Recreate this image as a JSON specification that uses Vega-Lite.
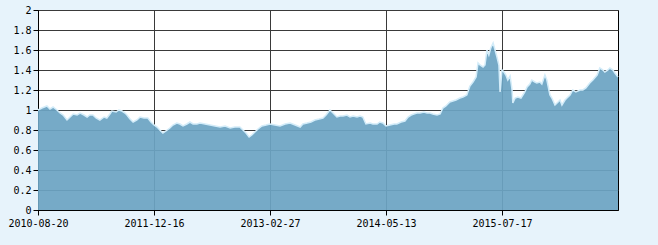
{
  "$schema": "https://vega.github.io/schema/vega-lite/v6.json",
  "autosize": "none",
  "width": 580,
  "height": 200,
  "padding": {"left": 38, "top": 10, "right": 40, "bottom": 35},
  "background": "#E7F3FB",
  "config": {
    "view": {"stroke": "#000000", "strokeWidth": 1, "fill": "#FFFFFF"},
    "axis": {
      "labelFont": "DejaVu Sans Mono",
      "labelFontSize": 10,
      "labelColor": "#000000",
      "domainColor": "#000000",
      "tickColor": "#000000",
      "tickSize": 5,
      "gridColor": "#3A3A3A",
      "gridOpacity": 1,
      "gridWidth": 1,
      "labelFlush": false,
      "labelOverlap": false,
      "title": null
    }
  },
  "data": {
    "values": [
      {"day": 0, "v": 1.00}, {"day": 10, "v": 1.02}, {"day": 23, "v": 1.04}, {"day": 31, "v": 1.01},
      {"day": 39, "v": 1.03}, {"day": 49, "v": 1.00}, {"day": 57, "v": 0.97}, {"day": 65, "v": 0.95},
      {"day": 75, "v": 0.90}, {"day": 83, "v": 0.93}, {"day": 91, "v": 0.96}, {"day": 101, "v": 0.95},
      {"day": 109, "v": 0.97}, {"day": 119, "v": 0.95}, {"day": 127, "v": 0.93}, {"day": 134, "v": 0.95},
      {"day": 142, "v": 0.95}, {"day": 150, "v": 0.92}, {"day": 160, "v": 0.90}, {"day": 171, "v": 0.93},
      {"day": 178, "v": 0.92}, {"day": 186, "v": 0.96}, {"day": 191, "v": 0.99}, {"day": 202, "v": 0.98},
      {"day": 209, "v": 1.00}, {"day": 217, "v": 0.99}, {"day": 225, "v": 0.97}, {"day": 230, "v": 0.95},
      {"day": 238, "v": 0.91}, {"day": 246, "v": 0.88}, {"day": 256, "v": 0.90}, {"day": 264, "v": 0.93},
      {"day": 274, "v": 0.92}, {"day": 284, "v": 0.92}, {"day": 292, "v": 0.88}, {"day": 300, "v": 0.85},
      {"day": 308, "v": 0.83}, {"day": 315, "v": 0.80}, {"day": 323, "v": 0.77}, {"day": 331, "v": 0.79},
      {"day": 341, "v": 0.82}, {"day": 349, "v": 0.85}, {"day": 359, "v": 0.87}, {"day": 367, "v": 0.86},
      {"day": 375, "v": 0.84}, {"day": 385, "v": 0.86}, {"day": 393, "v": 0.88}, {"day": 401, "v": 0.86},
      {"day": 411, "v": 0.86}, {"day": 419, "v": 0.87}, {"day": 432, "v": 0.86}, {"day": 445, "v": 0.85},
      {"day": 458, "v": 0.84}, {"day": 471, "v": 0.83}, {"day": 484, "v": 0.84}, {"day": 497, "v": 0.82},
      {"day": 509, "v": 0.83}, {"day": 522, "v": 0.83}, {"day": 530, "v": 0.80}, {"day": 538, "v": 0.77},
      {"day": 546, "v": 0.73}, {"day": 553, "v": 0.75}, {"day": 561, "v": 0.78}, {"day": 569, "v": 0.81},
      {"day": 579, "v": 0.84}, {"day": 590, "v": 0.85}, {"day": 600, "v": 0.86}, {"day": 613, "v": 0.85},
      {"day": 626, "v": 0.84}, {"day": 639, "v": 0.86}, {"day": 652, "v": 0.87}, {"day": 665, "v": 0.85},
      {"day": 678, "v": 0.83}, {"day": 685, "v": 0.86}, {"day": 696, "v": 0.87}, {"day": 706, "v": 0.88},
      {"day": 716, "v": 0.90}, {"day": 727, "v": 0.91}, {"day": 737, "v": 0.92}, {"day": 745, "v": 0.95},
      {"day": 755, "v": 1.00}, {"day": 763, "v": 0.97}, {"day": 773, "v": 0.93}, {"day": 781, "v": 0.94},
      {"day": 789, "v": 0.94}, {"day": 799, "v": 0.95}, {"day": 807, "v": 0.93}, {"day": 815, "v": 0.94},
      {"day": 825, "v": 0.93}, {"day": 833, "v": 0.94}, {"day": 840, "v": 0.93}, {"day": 848, "v": 0.86},
      {"day": 859, "v": 0.87}, {"day": 866, "v": 0.86}, {"day": 877, "v": 0.86}, {"day": 884, "v": 0.88},
      {"day": 892, "v": 0.87}, {"day": 900, "v": 0.84}, {"day": 910, "v": 0.85}, {"day": 921, "v": 0.86},
      {"day": 928, "v": 0.86}, {"day": 939, "v": 0.88}, {"day": 949, "v": 0.89}, {"day": 957, "v": 0.93},
      {"day": 965, "v": 0.95}, {"day": 972, "v": 0.96}, {"day": 980, "v": 0.97}, {"day": 988, "v": 0.97},
      {"day": 998, "v": 0.98}, {"day": 1006, "v": 0.97}, {"day": 1014, "v": 0.97}, {"day": 1021, "v": 0.96},
      {"day": 1032, "v": 0.95}, {"day": 1040, "v": 0.96}, {"day": 1047, "v": 1.02}, {"day": 1055, "v": 1.04},
      {"day": 1065, "v": 1.08}, {"day": 1073, "v": 1.09}, {"day": 1081, "v": 1.10}, {"day": 1091, "v": 1.12},
      {"day": 1099, "v": 1.13}, {"day": 1109, "v": 1.15}, {"day": 1117, "v": 1.24}, {"day": 1125, "v": 1.28},
      {"day": 1133, "v": 1.33}, {"day": 1138, "v": 1.47}, {"day": 1143, "v": 1.45}, {"day": 1151, "v": 1.43},
      {"day": 1156, "v": 1.45}, {"day": 1161, "v": 1.60}, {"day": 1166, "v": 1.55}, {"day": 1171, "v": 1.62},
      {"day": 1177, "v": 1.67}, {"day": 1182, "v": 1.60}, {"day": 1187, "v": 1.53}, {"day": 1192, "v": 1.45},
      {"day": 1195, "v": 1.18}, {"day": 1200, "v": 1.40}, {"day": 1205, "v": 1.38}, {"day": 1210, "v": 1.35},
      {"day": 1215, "v": 1.30}, {"day": 1221, "v": 1.34}, {"day": 1226, "v": 1.20}, {"day": 1228, "v": 1.07},
      {"day": 1234, "v": 1.12}, {"day": 1241, "v": 1.13}, {"day": 1249, "v": 1.12}, {"day": 1254, "v": 1.15},
      {"day": 1259, "v": 1.18}, {"day": 1265, "v": 1.23}, {"day": 1272, "v": 1.26}, {"day": 1277, "v": 1.30},
      {"day": 1285, "v": 1.28}, {"day": 1290, "v": 1.27}, {"day": 1298, "v": 1.28}, {"day": 1303, "v": 1.26},
      {"day": 1311, "v": 1.35}, {"day": 1316, "v": 1.30}, {"day": 1324, "v": 1.15}, {"day": 1329, "v": 1.12},
      {"day": 1337, "v": 1.05}, {"day": 1345, "v": 1.08}, {"day": 1350, "v": 1.10}, {"day": 1355, "v": 1.05},
      {"day": 1363, "v": 1.10}, {"day": 1368, "v": 1.12}, {"day": 1376, "v": 1.15}, {"day": 1383, "v": 1.20},
      {"day": 1391, "v": 1.18}, {"day": 1402, "v": 1.20}, {"day": 1409, "v": 1.20}, {"day": 1417, "v": 1.22},
      {"day": 1427, "v": 1.27}, {"day": 1435, "v": 1.30}, {"day": 1446, "v": 1.35}, {"day": 1453, "v": 1.42},
      {"day": 1461, "v": 1.40}, {"day": 1466, "v": 1.38}, {"day": 1474, "v": 1.40}, {"day": 1479, "v": 1.42},
      {"day": 1487, "v": 1.40}, {"day": 1492, "v": 1.37}, {"day": 1500, "v": 1.33}
    ]
  },
  "encoding": {
    "x": {
      "field": "day",
      "type": "quantitative",
      "scale": {"domain": [0, 1500], "nice": false, "zero": false},
      "axis": {
        "values": [0, 300, 600, 900, 1200],
        "grid": true,
        "labelExpr": "datum.value == 0 ? '2010-08-20' : datum.value == 300 ? '2011-12-16' : datum.value == 600 ? '2013-02-27' : datum.value == 900 ? '2014-05-13' : '2015-07-17'",
        "labelPadding": 3
      }
    },
    "y": {
      "field": "v",
      "type": "quantitative",
      "scale": {"domain": [0, 2], "nice": false},
      "axis": {
        "values": [0, 0.2, 0.4, 0.6, 0.8, 1, 1.2, 1.4, 1.6, 1.8, 2],
        "format": "~g",
        "grid": true,
        "labelPadding": 2
      }
    }
  },
  "layer": [
    {"mark": {"type": "area", "color": "#6CA4C3", "opacity": 0.93}},
    {"mark": {"type": "line", "color": "#D3ECF9", "strokeWidth": 1.5}}
  ]
}
